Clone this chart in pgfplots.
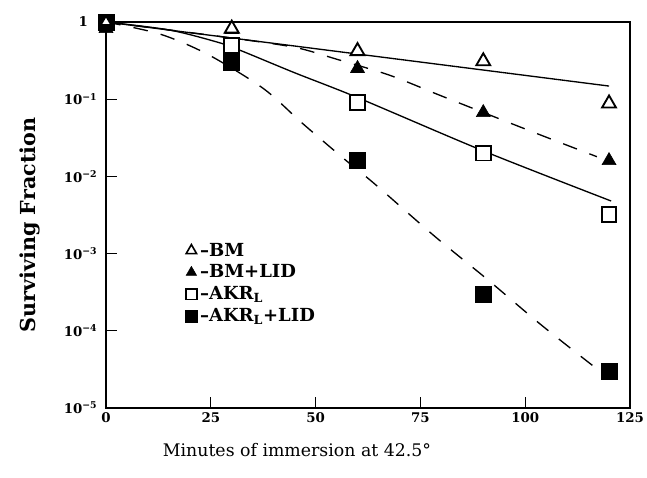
\documentclass[border=0pt]{standalone}
\usepackage{fontspec}
\setmainfont{DejaVu Serif}
\usepackage{pgfplots}
\pgfplotsset{compat=1.18}

\begin{document}
\begin{tikzpicture}
% fix the page to the reference's 647x478 frame (1 px = 0.75pt)
\path[use as bounding box] (-79.5pt,-52.5pt) rectangle (405.75pt,306pt);
\begin{axis}[
    at={(0pt,0pt)}, anchor=south west,
    scale only axis, width=393pt, height=289.5pt,
    xmin=0, xmax=125,
    ymode=log, ymin=1e-5, ymax=1,
    xtick={0,25,50,75,100,125},
    ytick={1e-5,1e-4,1e-3,1e-2,1e-1,1},
    yticklabels={10\textsuperscript{−5},10\textsuperscript{−4},10\textsuperscript{−3},10\textsuperscript{−2},10\textsuperscript{−1},1\hspace*{7pt}},
    yminorticks=false,
    tickpos=left, tick align=inside, major tick length=8pt,
    every tick/.style={black, line width=1pt},
    axis line style={line width=1pt},
    /pgf/number format/assume math mode=true,
    tick label style={font=\bfseries\fontsize{10}{12}\selectfont},
    yticklabel style={xshift=-3pt},
    xlabel={Minutes of immersion at 42.5°},
    xlabel style={font=\fontsize{13}{15}\selectfont, at={(axis description cs:0.3645,-0.109)}, anchor=center},
    ylabel={Surviving Fraction},
    ylabel style={font=\bfseries\fontsize{15.5}{18}\selectfont, at={(axis description cs:-0.145,0.474)}, anchor=center},
    clip=false,
    legend style={draw=none, fill=none, at={(axis description cs:0.151,0.435)}, anchor=north west,
        font=\bfseries\fontsize{13.5}{16}\selectfont, row sep=1pt, inner sep=0pt, cells={anchor=west}},
    legend image code/.code={\draw[#1] plot coordinates {(0.15cm,0cm)};},
]
% fitted curves
\addplot[black, line width=1pt, forget plot] coordinates {(0,1) (120,0.148)};
\addplot[black, line width=1pt, dash pattern=on 11pt off 10pt, smooth, forget plot] coordinates {
    (0,1) (15,0.79) (30,0.62) (45,0.47) (55,0.33) (67.7,0.204) (79.7,0.112) (92,0.061) (104.2,0.0335) (117.1,0.018)};
\addplot[black, line width=1pt, smooth, forget plot] coordinates {
    (0,1) (15,0.79) (26.5,0.55) (32,0.43) (45,0.22) (60,0.105) (90,0.0214) (120.5,0.0048)};
\addplot[black, line width=1pt, dash pattern=on 11pt off 10pt, smooth, forget plot] coordinates {
    (0,1) (12.9,0.697) (24.3,0.38) (37.5,0.138) (46.8,0.049) (56.5,0.0174) (64.2,0.0079)
    (78.5,0.00166) (91.1,4.57e-4) (104,1.17e-4) (117.8,3.0e-5)};
% measured points
\addplot[only marks, mark=triangle*, mark size=6pt, mark options={fill=black, draw=black, line width=0.5pt}, forget plot]
    coordinates {(30,0.8) (60,0.25) (90,0.067) (120,0.016)};
\addplot[only marks, mark=triangle*, mark size=6pt, mark options={fill=white, draw=black, line width=1.4pt}, forget plot]
    coordinates {(30,0.82) (60,0.42) (90,0.31) (120,0.088)};
\addplot[only marks, mark=square*, mark size=5.5pt, mark options={fill=white, draw=black, line width=1.4pt}, forget plot]
    coordinates {(0,1) (30,0.50) (60,0.09) (90,0.020) (120,0.0032)};
\addplot[only marks, mark=square*, mark size=6pt, mark options={fill=black, draw=black, line width=0.5pt}, forget plot]
    coordinates {(0,1) (30,0.30) (60,0.016) (90,3.0e-4) (120,2.95e-5)};
% the starting points overlap: filled triangle just below, open triangle on top
\addplot[only marks, mark=triangle*, mark size=6pt, mark options={fill=black, draw=black, line width=0.5pt}, forget plot]
    coordinates {(0,0.82)};
\addplot[only marks, mark=triangle*, mark size=4.5pt, mark options={fill=white, draw=black, line width=1.2pt}, forget plot]
    coordinates {(0,1)};
% legend
\addlegendimage{only marks, mark=triangle*, mark size=4.5pt, mark options={fill=white, draw=black, line width=1.2pt}}
\addlegendimage{only marks, mark=triangle*, mark size=4.5pt, mark options={fill=black, draw=black}}
\addlegendimage{only marks, mark=square*, mark size=4pt, mark options={fill=white, draw=black, line width=1.2pt}}
\addlegendimage{only marks, mark=square*, mark size=4.5pt, mark options={fill=black, draw=black}}
\legend{–BM, –BM+LID, –AKR\textsubscript{L}, –AKR\textsubscript{L}+LID}
\end{axis}
\end{tikzpicture}
\end{document}
